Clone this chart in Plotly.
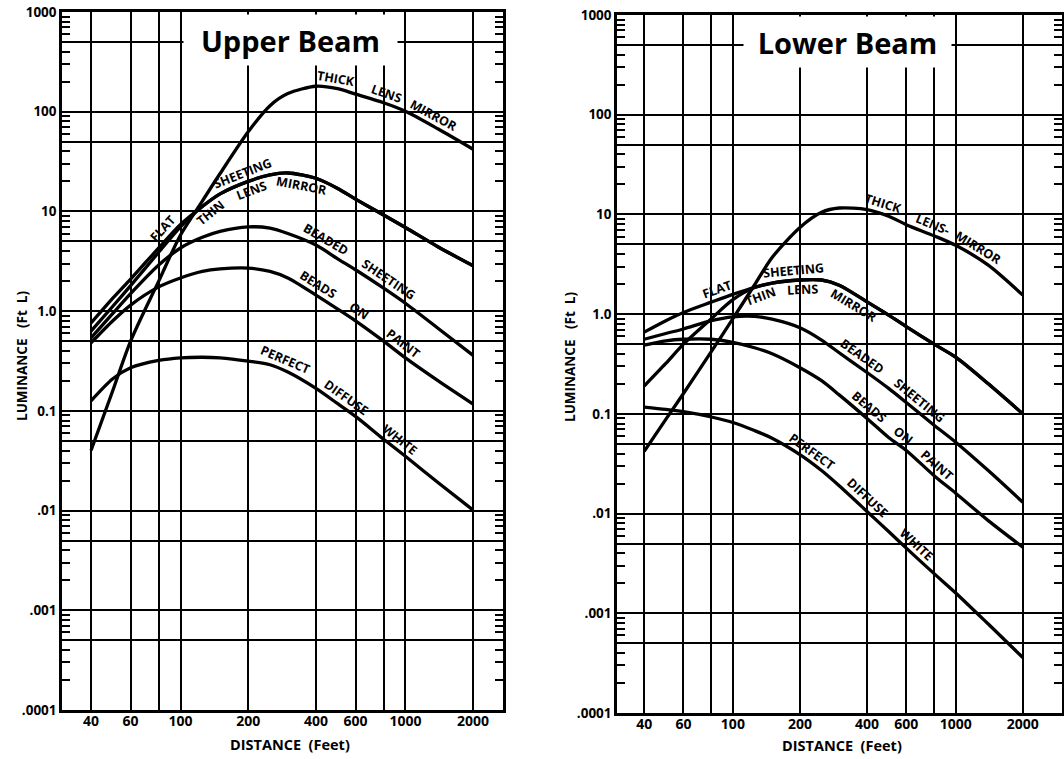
import numpy as np
import plotly.graph_objects as go

# ---------------- data ----------------
DISTANCE_FT = [40, 50, 60, 80, 100, 125, 150, 200, 250, 300, 400, 500, 600, 800, 1000, 1400, 2000]

# Upper Beam luminance (ft-L)
UPPER_THICK_LENS_MIRROR = [0.04, 0.16, 0.5, 2.0, 5.8, 12.7, 24, 63, 115, 152, 180, 170, 150, 123, 101, 67, 42]
UPPER_FLAT_SHEETING = [0.76, 1.35, 2.1, 4.3, 7.4, 11.2, 15, 20, 23.3, 24.3, 21.5, 17, 13.3, 9.2, 6.9, 4.4, 2.85]
UPPER_THIN_LENS_MIRROR = [0.63, 1.12, 1.8, 3.9, 7.0, 11.2, 15, 20, 23.3, 24.3, 21.5, 17, 13.3, 9.2, 6.9, 4.4, 2.85]
UPPER_BEADED_SHEETING = [0.54, 0.95, 1.5, 2.9, 4.3, 5.5, 6.3, 7.0, 6.8, 6.0, 4.6, 3.35, 2.6, 1.7, 1.2, 0.67, 0.36]
UPPER_BEADS_ON_PAINT = [0.48, 0.8, 1.15, 1.75, 2.15, 2.5, 2.65, 2.7, 2.5, 2.15, 1.45, 1.05, 0.8, 0.5, 0.34, 0.2, 0.117]
UPPER_PERFECT_DIFFUSE_WHITE = [0.126, 0.21, 0.27, 0.32, 0.34, 0.345, 0.34, 0.315, 0.29, 0.245, 0.168, 0.118, 0.088, 0.052, 0.035, 0.019, 0.0101]

# Lower Beam luminance (ft-L)
LOWER_THICK_LENS_MIRROR = [0.042, 0.088, 0.16, 0.42, 0.9, 1.96, 3.7, 7.4, 10.5, 11.6, 11.2, 9.6, 7.9, 6.1, 4.9, 3.1, 1.55]
LOWER_FLAT_SHEETING = [0.66, 0.86, 1.04, 1.32, 1.58, 1.85, 2.05, 2.2, 2.2, 1.95, 1.33, 0.98, 0.75, 0.5, 0.37, 0.2, 0.1]
LOWER_THIN_LENS_MIRROR = [0.19, 0.32, 0.5, 0.9, 1.4, 1.85, 2.05, 2.2, 2.2, 1.95, 1.33, 0.98, 0.75, 0.5, 0.37, 0.2, 0.1]
LOWER_BEADED_SHEETING = [0.56, 0.64, 0.71, 0.86, 0.94, 0.95, 0.89, 0.73, 0.55, 0.41, 0.26, 0.18, 0.13, 0.077, 0.052, 0.027, 0.013]
LOWER_BEADS_ON_PAINT = [0.49, 0.54, 0.56, 0.56, 0.52, 0.46, 0.40, 0.29, 0.215, 0.155, 0.09, 0.058, 0.043, 0.024, 0.016, 0.0085, 0.0046]
LOWER_PERFECT_DIFFUSE_WHITE = [0.117, 0.111, 0.105, 0.093, 0.082, 0.068, 0.057, 0.039, 0.027, 0.019, 0.0105, 0.0066, 0.0045, 0.0025, 0.0016, 0.00078, 0.00036]

X_GRID = [40, 60, 80, 100, 200, 400, 600, 800, 1000, 2000]
X_TICKTEXT = ["40", "60", "", "100", "200", "400", "600", "", "1000", "2000"]
Y_DECADES = [0.0001, 0.001, 0.01, 0.1, 1, 10, 100, 1000]
Y_DECADE_TEXT = [".0001", ".001", ".01", "0.1", "1.0", "10", "100", "1000"]

PANEL_TITLES = ["Upper Beam", "Lower Beam"]
X_TITLE = "DISTANCE&nbsp;&nbsp;(Feet)"
Y_TITLE = "LUMINANCE&nbsp;&nbsp;&nbsp;(Ft&nbsp;&nbsp;L)"

# ---------------- figure ----------------
W, H = 1064, 759
FONT = "Open Sans, Lato, DejaVu Sans, sans-serif"

def px(x):
    return x / W

def py(y):
    return 1 - y / H

fig = go.Figure()

panels = [
    dict(xa="x", ya="y",
         series=[UPPER_THICK_LENS_MIRROR, UPPER_FLAT_SHEETING, UPPER_THIN_LENS_MIRROR,
                 UPPER_BEADED_SHEETING, UPPER_BEADS_ON_PAINT, UPPER_PERFECT_DIFFUSE_WHITE]),
    dict(xa="x2", ya="y2",
         series=[LOWER_THICK_LENS_MIRROR, LOWER_FLAT_SHEETING, LOWER_THIN_LENS_MIRROR,
                 LOWER_BEADED_SHEETING, LOWER_BEADS_ON_PAINT, LOWER_PERFECT_DIFFUSE_WHITE]),
]

for p in panels:
    for ys in p["series"]:
        fig.add_trace(go.Scatter(
            x=DISTANCE_FT, y=ys, mode="lines", xaxis=p["xa"], yaxis=p["ya"],
            line=dict(color="black", width=3.3, shape="spline", smoothing=0.8),
            showlegend=False, hoverinfo="skip"))

# y gridlines at decades and 5x
y_grid = []
y_text = []
for v, t in zip(Y_DECADES, Y_DECADE_TEXT):
    y_grid.append(v)
    y_text.append("<b>%s</b>" % t)
    if v < 1000:
        y_grid.append(5 * v)
        y_text.append("")
minor_vals = [k * 10.0 ** e for e in range(-4, 3) for k in (2, 3, 4, 6, 7, 8, 9)]

def xaxis_cfg(domain, rng, anchor):
    return dict(domain=domain, type="log", range=rng, anchor=anchor, automargin=False,
                tickmode="array", tickvals=X_GRID,
                ticktext=["<b>%s</b>" % t if t else "" for t in X_TICKTEXT],
                showgrid=True, gridcolor="black", gridwidth=2,
                showline=True, linecolor="black", linewidth=2.5, mirror=True,
                ticks="", zeroline=False, ticklabelstandoff=-4,
                ticklabeloverflow="allow",
                tickfont=dict(family=FONT, size=14, color="black"))

def yaxis_cfg(domain, anchor):
    return dict(domain=domain, type="log", range=[-4, 3], anchor=anchor, automargin=False,
                tickmode="array", tickvals=y_grid, ticktext=y_text,
                showgrid=True, gridcolor="black", gridwidth=2,
                showline=True, linecolor="black", linewidth=2.5, mirror="ticks",
                ticks="inside", ticklen=9, tickwidth=1.5, tickcolor="black",
                minor=dict(tickmode="array", tickvals=minor_vals, ticks="inside",
                           ticklen=8, tickwidth=1.5, tickcolor="black", showgrid=False),
                zeroline=False, ticklabeloverflow="allow",
                tickfont=dict(family=FONT, size=13.5, color="black"))

fig.update_layout(
    template="none",
    width=W, height=H,
    margin=dict(l=0, r=0, t=0, b=0, autoexpand=False),
    paper_bgcolor="white", plot_bgcolor="white",
    showlegend=False,
    xaxis=xaxis_cfg([px(62), px(503)], [1.473, 3.434], "y"),
    yaxis=yaxis_cfg([py(710), py(12)], "x"),
    xaxis2=xaxis_cfg([px(617), px(1062)], [1.480, 3.477], "y2"),
    yaxis2=yaxis_cfg([py(713), py(15)], "x2"),
)

# ---------------- panel titles (white boxes interrupt the grid) ----------------
fig.add_annotation(x=px(290.5), y=py(40), xref="paper", yref="paper",
                   xanchor="center", yanchor="middle",
                   text="<b>%s</b>" % PANEL_TITLES[0], showarrow=False,
                   bgcolor="white", width=213, height=50, borderpad=0,
                   font=dict(family=FONT, size=29, color="black"))
fig.add_annotation(x=px(847.5), y=py(42), xref="paper", yref="paper",
                   xanchor="center", yanchor="middle",
                   text="<b>%s</b>" % PANEL_TITLES[1], showarrow=False,
                   bgcolor="white", width=207, height=50, borderpad=0,
                   font=dict(family=FONT, size=29, color="black"))

# axis titles
for cx, cy in [(290, 744), (842, 745)]:
    fig.add_annotation(x=px(cx), y=py(cy), xref="paper", yref="paper",
                       xanchor="center", yanchor="middle",
                       text="<b>%s</b>" % X_TITLE, showarrow=False,
                       font=dict(family=FONT, size=14.5, color="black"))
for cx, cy in [(22, 356), (570, 357)]:
    fig.add_annotation(x=px(cx), y=py(cy), xref="paper", yref="paper",
                       xanchor="center", yanchor="middle",
                       text="<b>%s</b>" % Y_TITLE, showarrow=False, textangle=-90,
                       font=dict(family=FONT, size=13.5, color="black"))

# ---------------- curve labels placed along the curves ----------------
def place(ys, text, xpos, off, xa, ya, xdec, ydec):
    lx = np.log10(DISTANCE_FT)
    ly = np.log10(ys)
    x0 = np.log10(xpos)
    y0 = np.interp(x0, lx, ly)
    h = 0.04
    s = (np.interp(x0 + h, lx, ly) - np.interp(x0 - h, lx, ly)) / (2 * h)
    sp = s * ydec / xdec
    nrm = np.sqrt(1 + sp * sp)
    ax_ = x0 + (-off * sp / nrm) / xdec
    ay_ = y0 + (off / nrm) / ydec
    ang = -np.degrees(np.arctan(sp))
    fig.add_annotation(x=ax_, y=ay_, xref=xa, yref=ya, text="<b>%s</b>" % text,
                       xanchor="center", yanchor="middle",
                       textangle=ang, showarrow=False,
                       font=dict(family=FONT, size=12.5, color="black"))

U = ("x", "y", 225.0, 100.0)
L = ("x2", "y2", 222.0, 99.7)
OFF = 10
labels = [
    (UPPER_THICK_LENS_MIRROR, "THICK", 481, OFF, U),
    (UPPER_THICK_LENS_MIRROR, "LENS", 796, OFF, U),
    (UPPER_THICK_LENS_MIRROR, "MIRROR", 1274, OFF, U),
    (UPPER_FLAT_SHEETING, "FLAT", 90, OFF, U),
    (UPPER_FLAT_SHEETING, "SHEETING", 195, OFF, U),
    (UPPER_THIN_LENS_MIRROR, "THIN", 128, -OFF, U),
    (UPPER_THIN_LENS_MIRROR, "LENS", 200, -OFF, U),
    (UPPER_THIN_LENS_MIRROR, "MIRROR", 350, -OFF, U),
    (UPPER_BEADED_SHEETING, "BEADED", 421, OFF, U),
    (UPPER_BEADED_SHEETING, "SHEETING", 796, OFF, U),
    (UPPER_BEADS_ON_PAINT, "BEADS", 387, OFF, U),
    (UPPER_BEADS_ON_PAINT, "ON", 584, OFF, U),
    (UPPER_BEADS_ON_PAINT, "PAINT", 918, OFF, U),
    (UPPER_PERFECT_DIFFUSE_WHITE, "PERFECT", 279, OFF, U),
    (UPPER_PERFECT_DIFFUSE_WHITE, "DIFFUSE", 514, OFF, U),
    (UPPER_PERFECT_DIFFUSE_WHITE, "WHITE", 887, OFF, U),
    (LOWER_THICK_LENS_MIRROR, "THICK", 457, OFF, L),
    (LOWER_THICK_LENS_MIRROR, "LENS-", 760, OFF, L),
    (LOWER_THICK_LENS_MIRROR, "MIRROR", 1194, OFF, L),
    (LOWER_FLAT_SHEETING, "FLAT", 88, OFF, L),
    (LOWER_FLAT_SHEETING, "SHEETING", 188, OFF, L),
    (LOWER_THIN_LENS_MIRROR, "THIN", 128, -OFF, L),
    (LOWER_THIN_LENS_MIRROR, "LENS", 205, -OFF, L),
    (LOWER_THIN_LENS_MIRROR, "MIRROR", 368, -OFF, L),
    (LOWER_BEADED_SHEETING, "BEADED", 359, OFF, L),
    (LOWER_BEADED_SHEETING, "SHEETING", 644, OFF, L),
    (LOWER_BEADS_ON_PAINT, "BEADS", 380, OFF, L),
    (LOWER_BEADS_ON_PAINT, "ON", 548, OFF, L),
    (LOWER_BEADS_ON_PAINT, "PAINT", 773, OFF, L),
    (LOWER_PERFECT_DIFFUSE_WHITE, "PERFECT", 213, OFF, L),
    (LOWER_PERFECT_DIFFUSE_WHITE, "DIFFUSE", 373, OFF, L),
    (LOWER_PERFECT_DIFFUSE_WHITE, "WHITE", 622, OFF, L),
]
for ys, txt, xp, off, ax in labels:
    place(ys, txt, xp, off, *ax)

# remove the default 8 px page margin so the figure sits at the window corner
fig.write_html("out.html",
               config={"displayModeBar": False},
               post_script="document.body.style.margin='0';document.body.style.overflow='hidden';")
